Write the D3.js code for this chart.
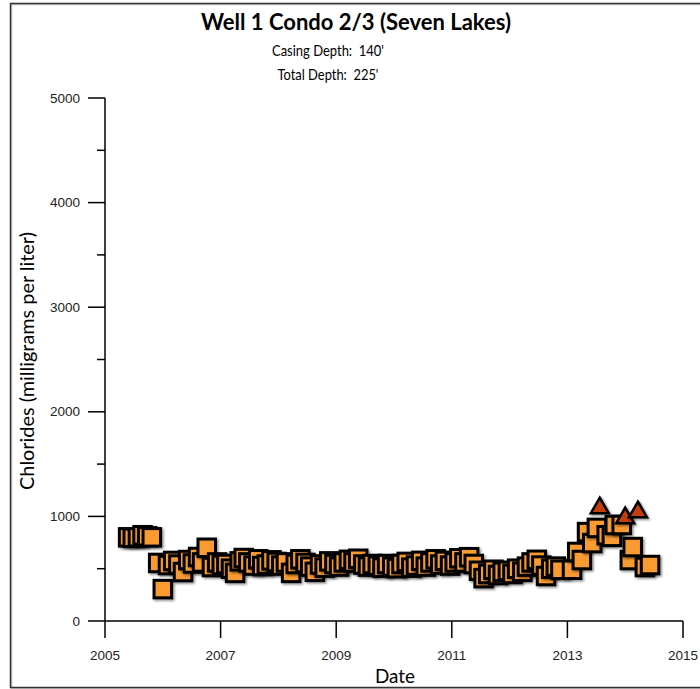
<!DOCTYPE html>
<html><head><meta charset="utf-8">
<script src="https://cdn.jsdelivr.net/npm/d3@7/dist/d3.min.js"></script>
<style>body{margin:0;background:#fff}svg{display:block}</style>
</head><body>
<svg id="c" width="700" height="689"></svg>
<script>
// Data (decimal year, chlorides mg/L)
const sqDates = [2005.40,2005.48,2005.57,2005.65,2005.73,2005.81,2005.92,2006.00,2006.09,2006.18,2006.27,2006.35,2006.44,2006.52,2006.61,2006.68,2006.76,2006.85,2006.94,2007.02,2007.10,2007.18,2007.25,2007.33,2007.40,2007.48,2007.57,2007.65,2007.72,2007.80,2007.88,2007.97,2008.05,2008.13,2008.22,2008.30,2008.38,2008.47,2008.55,2008.63,2008.72,2008.80,2008.88,2008.97,2009.05,2009.13,2009.22,2009.30,2009.38,2009.47,2009.55,2009.63,2009.72,2009.80,2009.88,2009.97,2010.05,2010.13,2010.22,2010.30,2010.38,2010.47,2010.55,2010.63,2010.72,2010.80,2010.88,2010.97,2011.05,2011.13,2011.22,2011.30,2011.38,2011.47,2011.55,2011.63,2011.72,2011.80,2011.88,2011.97,2012.05,2012.13,2012.22,2012.30,2012.38,2012.47,2012.55,2012.63,2012.72,2012.80,2012.88,2013.08,2013.17,2013.25,2013.34,2013.43,2013.51,2013.68,2013.77,2013.82,2013.94,2014.08,2014.13,2014.34,2014.43];
const sqValues = [800,795,800,820,810,800,555,305,535,574,540,468,583,550,612,560,700,516,560,535,545,500,460,570,602,560,530,590,525,540,580,564,530,560,460,545,590,555,520,470,540,510,570,545,520,560,585,560,595,540,520,545,530,510,545,520,505,545,565,510,530,575,520,560,590,540,575,530,560,600,560,610,545,480,410,450,490,440,470,480,450,500,470,520,560,585,530,430,500,520,490,490,660,583,850,745,890,820,805,918,918,583,707,516,535];
const triDates = [2013.56, 2014.00, 2014.22];
const triValues = [1080, 985, 1042];
const xTicks = [2005, 2007, 2009, 2011, 2013, 2015];
const yTicks = [0, 1000, 2000, 3000, 4000, 5000];
const yMinor = [500, 1500, 2500, 3500, 4500];
const titleText = "Well 1 Condo 2/3 (Seven Lakes)";
const sub1Text = "Casing Depth:  140'";
const sub2Text = "Total Depth:  225'";
const xTitle = "Date";
const yTitle = "Chlorides (milligrams per liter)";

const svg = d3.select("#c");
const x = d3.scaleLinear().domain([2005, 2015]).range([105, 683]);
const y = d3.scaleLinear().domain([0, 5000]).range([621, 98]);

// frame
svg.append("rect").attr("x", 11.5).attr("y", 4.5).attr("width", 700).attr("height", 684)
  .attr("fill", "none").attr("stroke", "#c8c8c8").attr("stroke-width", 1.5);
svg.append("rect").attr("x", 10.5).attr("y", 3.5).attr("width", 700).attr("height", 684)
  .attr("fill", "none").attr("stroke", "#333").attr("stroke-width", 1.5);

const defs = svg.append("defs");
const f = defs.append("filter").attr("id", "sh").attr("x", "-30%").attr("y", "-30%").attr("width", "160%").attr("height", "160%");
f.append("feDropShadow").attr("dx", 1.5).attr("dy", 1.5).attr("stdDeviation", 0.8)
  .attr("flood-color", "#000").attr("flood-opacity", 0.45);

// squeeze text horizontally to a target width (narrow, Calibri-like look)
function squeeze(t, w) {
  const L = t.node().getComputedTextLength();
  if (L > w) t.attr("textLength", w).attr("lengthAdjust", "spacingAndGlyphs");
  else t.attr("font-size", (parseFloat(t.attr("font-size")) * w / L).toFixed(2));
}

const tf = "Lato, 'Open Sans', sans-serif";
const t1 = svg.append("text").attr("x", 356).attr("y", 30).attr("text-anchor", "middle")
  .attr("font-family", tf).attr("font-weight", "bold").attr("font-size", 20).text(titleText);
squeeze(t1, 310);
const t2 = svg.append("text").attr("x", 328).attr("y", 56).attr("text-anchor", "middle").style("white-space", "pre")
  .attr("font-family", tf).attr("font-size", 16).text(sub1Text);
squeeze(t2, 112);
const t3 = svg.append("text").attr("x", 328).attr("y", 80).attr("text-anchor", "middle").style("white-space", "pre")
  .attr("font-family", tf).attr("font-size", 16).text(sub2Text);
squeeze(t3, 101);

// axes
const ax = svg.append("g").attr("stroke", "#000").attr("stroke-width", 1.5);
ax.append("line").attr("x1", x(2005)).attr("x2", x(2005)).attr("y1", y(5000)).attr("y2", y(0));
ax.append("line").attr("x1", x(2005)).attr("x2", x(2015)).attr("y1", y(0)).attr("y2", y(0));
yTicks.forEach(v => ax.append("line").attr("x1", x(2005) - 17).attr("x2", x(2005)).attr("y1", y(v)).attr("y2", y(v)));
yMinor.forEach(v => ax.append("line").attr("x1", x(2005) - 8).attr("x2", x(2005)).attr("y1", y(v)).attr("y2", y(v)));
xTicks.forEach(v => ax.append("line").attr("x1", x(v)).attr("x2", x(v)).attr("y1", y(0)).attr("y2", y(0) + 17));

const lf = "'Liberation Sans', Arial, sans-serif";
svg.append("g").selectAll("text").data(yTicks).join("text")
  .attr("x", 80).attr("y", d => y(d) + 4.5).attr("text-anchor", "end")
  .attr("font-family", lf).attr("font-size", 13.5).attr("fill", "#222").text(d => d);
svg.append("g").selectAll("text").data(xTicks).join("text")
  .attr("x", d => x(d)).attr("y", 660).attr("text-anchor", "middle")
  .attr("font-family", lf).attr("font-size", 13.5).attr("fill", "#222").text(d => d);

const xt = svg.append("text").attr("x", 395).attr("y", 683).attr("text-anchor", "middle")
  .attr("font-family", tf).attr("font-size", 18).text(xTitle);
squeeze(xt, 40);
const yt = svg.append("text").attr("transform", "translate(34,361) rotate(-90)").attr("text-anchor", "middle")
  .attr("font-family", tf).attr("font-size", 18.5).text(yTitle);
squeeze(yt, 258);

// squares
const s = 17.5;
const sq = sqDates.map((d, i) => ({d, v: sqValues[i]}));
svg.append("g").selectAll("rect").data(sq).join("rect")
  .attr("x", p => x(p.d) - s / 2).attr("y", p => y(p.v) - s / 2)
  .attr("width", s).attr("height", s)
  .attr("fill", "#fa9b32").attr("stroke", "#000").attr("stroke-width", 3)
  .attr("filter", "url(#sh)");

// triangles
const tri = triDates.map((d, i) => ({d, v: triValues[i]}));
const sym = d3.symbol().type(d3.symbolTriangle).size(140);
svg.append("g").selectAll("path").data(tri).join("path")
  .attr("transform", p => `translate(${x(p.d)},${y(p.v)})`)
  .attr("d", sym)
  .attr("fill", "#c43c0a").attr("stroke", "#000").attr("stroke-width", 2.5)
  .attr("filter", "url(#sh)");
</script>
</body></html>
